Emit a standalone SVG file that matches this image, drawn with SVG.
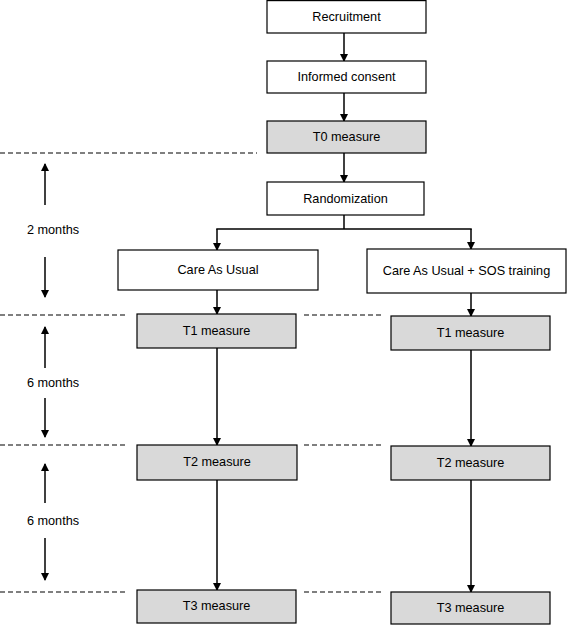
<svg xmlns="http://www.w3.org/2000/svg" width="567" height="625" viewBox="0 0 567 625">
<style>
.box{fill:#ffffff;stroke:#000;stroke-width:1.2}
.gray{fill:#d9d9d9;stroke:#000;stroke-width:1.2}
.t{font-family:"Liberation Sans",Arial,sans-serif;font-size:12.7px;fill:#000;text-anchor:middle;dominant-baseline:central}
.c{stroke:#000;stroke-width:1.5;fill:none}
.d{stroke:#000;stroke-width:1.2;stroke-dasharray:5 3;fill:none}
</style>
<defs>
<marker id="ah" markerUnits="userSpaceOnUse" markerWidth="8" markerHeight="9" refX="7" refY="4" orient="auto">
<path d="M0,0 L8,4 L0,8 Z" fill="#000"/>
</marker>
</defs>
<rect width="567" height="625" fill="#fff"/>
<g id="timeline">
<line class="d" x1="0" y1="153" x2="257" y2="153"/>
<line class="d" x1="0" y1="315" x2="128" y2="315"/>
<line class="d" x1="304" y1="315" x2="382" y2="315"/>
<line class="d" x1="0" y1="445" x2="128" y2="445"/>
<line class="d" x1="304" y1="445" x2="382" y2="445"/>
<line class="d" x1="0" y1="592" x2="128" y2="592"/>
<line class="d" x1="304" y1="592" x2="382" y2="592"/>
<line class="c" x1="45" y1="205" x2="45" y2="164" marker-end="url(#ah)"/>
<line class="c" x1="45" y1="257" x2="45" y2="297" marker-end="url(#ah)"/>
<text class="t" x="53" y="230">2 months</text>
<line class="c" x1="45" y1="368" x2="45" y2="327" marker-end="url(#ah)"/>
<line class="c" x1="45" y1="398" x2="45" y2="437" marker-end="url(#ah)"/>
<text class="t" x="53" y="383">6 months</text>
<line class="c" x1="45" y1="503" x2="45" y2="464" marker-end="url(#ah)"/>
<line class="c" x1="45" y1="538" x2="45" y2="580" marker-end="url(#ah)"/>
<text class="t" x="53" y="521">6 months</text>
</g>
<g id="connectors">
<line class="c" x1="344" y1="33" x2="344" y2="61" marker-end="url(#ah)"/>
<line class="c" x1="344" y1="93" x2="344" y2="121" marker-end="url(#ah)"/>
<line class="c" x1="344" y1="153" x2="344" y2="182" marker-end="url(#ah)"/>
<line class="c" x1="344" y1="215" x2="344" y2="229"/>
<line class="c" x1="216.25" y1="229" x2="471.75" y2="229"/>
<line class="c" x1="217" y1="229" x2="217" y2="250" marker-end="url(#ah)"/>
<line class="c" x1="471" y1="229" x2="471" y2="249" marker-end="url(#ah)"/>
<line class="c" x1="217" y1="290" x2="217" y2="314" marker-end="url(#ah)"/>
<line class="c" x1="471" y1="293" x2="471" y2="316" marker-end="url(#ah)"/>
<line class="c" x1="217" y1="348" x2="217" y2="445" marker-end="url(#ah)"/>
<line class="c" x1="471" y1="350" x2="471" y2="446" marker-end="url(#ah)"/>
<line class="c" x1="217" y1="480" x2="217" y2="590" marker-end="url(#ah)"/>
<line class="c" x1="471" y1="480" x2="471" y2="592" marker-end="url(#ah)"/>
</g>
<g id="recruitment"><rect class="box" x="267" y="0.6" width="159" height="32.4"/><text class="t" x="346.5" y="17">Recruitment</text></g>
<g id="consent"><rect class="box" x="267" y="61" width="159" height="32"/><text class="t" x="346.5" y="77">Informed consent</text></g>
<g id="t0"><rect class="gray" x="267" y="121" width="159" height="32"/><text class="t" x="346.5" y="137">T0 measure</text></g>
<g id="randomization"><rect class="box" x="267" y="182" width="157" height="33"/><text class="t" x="345.5" y="198.5">Randomization</text></g>
<g id="cau"><rect class="box" x="118" y="250" width="200" height="40"/><text class="t" x="218" y="270">Care As Usual</text></g>
<g id="cau_sos"><rect class="box" x="367" y="249" width="199" height="44"/><text class="t" x="466.5" y="271">Care As Usual + SOS training</text></g>
<g id="t1_left"><rect class="gray" x="137" y="314" width="159" height="34"/><text class="t" x="216.5" y="331">T1 measure</text></g>
<g id="t1_right"><rect class="gray" x="391" y="316" width="159" height="34"/><text class="t" x="470.5" y="333">T1 measure</text></g>
<g id="t2_left"><rect class="gray" x="137" y="445" width="160" height="35"/><text class="t" x="217" y="462">T2 measure</text></g>
<g id="t2_right"><rect class="gray" x="391" y="446" width="159" height="34"/><text class="t" x="470.5" y="463">T2 measure</text></g>
<g id="t3_left"><rect class="gray" x="137" y="590" width="159" height="33"/><text class="t" x="216.5" y="606">T3 measure</text></g>
<g id="t3_right"><rect class="gray" x="391" y="592" width="159" height="32"/><text class="t" x="470.5" y="608">T3 measure</text></g>
</svg>
